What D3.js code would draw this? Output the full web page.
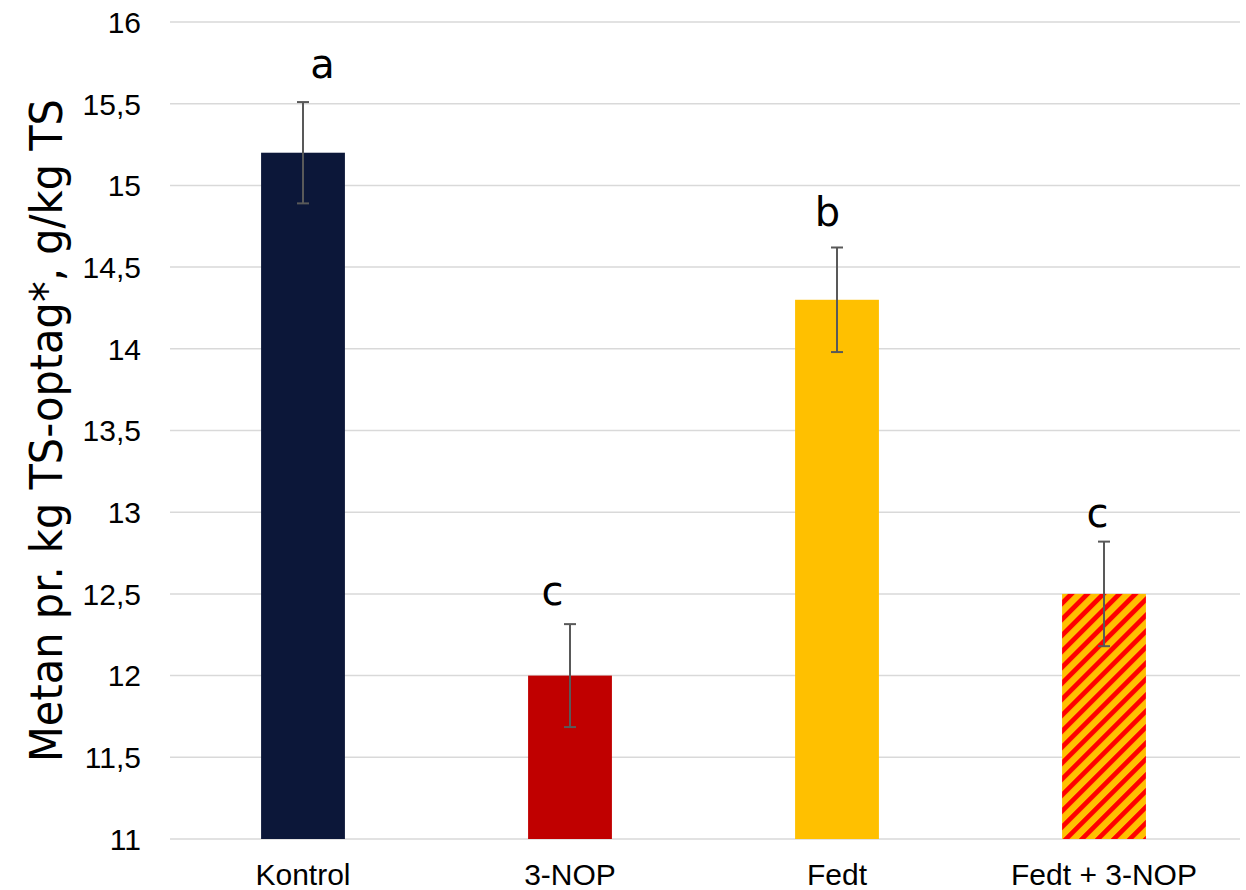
<!DOCTYPE html>
<html><head><meta charset="utf-8">
<script src="https://cdn.jsdelivr.net/npm/d3@7"></script>
<style>body{margin:0;background:#fff}</style>
</head><body>
<svg id="c" width="1246" height="890"></svg>
<script>
const categories = ["Kontrol", "3-NOP", "Fedt", "Fedt + 3-NOP"];
const values = [15.2, 12.0, 14.3, 12.5];
const errors = [0.31, 0.315, 0.32, 0.32];
const letters = ["a", "c", "b", "c"];
const yTicks = [11, 11.5, 12, 12.5, 13, 13.5, 14, 14.5, 15, 15.5, 16];
const yTitle = "Metan pr. kg TS-optag*, g/kg TS";

(function(){
const colors = ["#0c1739", "#c00000", "#ffc000", "url(#hatch)"];
const letterDx = [19.5, -17.5, -9.5, -6.5];
const letterDy = [-24, -19, -21, -15];

const svg = d3.select("#c");
const mLeft = 169.5, mRight = 1237.5, mTop = 22, mBottom = 839;

const defs = svg.append("defs");
const pat = defs.append("pattern").attr("id","hatch").attr("patternUnits","userSpaceOnUse")
  .attr("width",11.3).attr("height",11.3).attr("patternTransform","rotate(45)");
pat.append("rect").attr("width",11.3).attr("height",11.3).attr("fill","#ffc000");
pat.append("rect").attr("width",4.8).attr("height",11.3).attr("fill","#ff0000");

const x = d3.scaleBand().domain(categories).range([mLeft, mRight]).padding(0);
const y = d3.scaleLinear().domain([11, 16]).range([mBottom, mTop]);
const barW = x.bandwidth() * 0.314;

svg.append("g").selectAll("line").data(yTicks).join("line")
  .attr("x1", 170).attr("x2", 1240)
  .attr("y1", d => y(d)).attr("y2", d => y(d))
  .attr("stroke", "#d9d9d9").attr("stroke-width", 1.5);

const fmt = d => String(d).replace(".", ",");
svg.append("g").selectAll("text").data(yTicks).join("text")
  .attr("x", 141).attr("y", d => y(d)).attr("dy", "0.36em")
  .attr("text-anchor", "end")
  .attr("font-family", "Liberation Sans, Arial, sans-serif").attr("font-size", 30)
  .attr("fill", "#000").text(fmt);

svg.append("g").selectAll("rect").data(values).join("rect")
  .attr("x", (d,i) => x(categories[i]) + x.bandwidth()/2 - barW/2)
  .attr("width", barW)
  .attr("y", d => y(d)).attr("height", d => y(11) - y(d))
  .attr("fill", (d,i) => colors[i]);

const eg = svg.append("g").attr("stroke", "#595959").attr("stroke-width", 2);
values.forEach((v,i) => {
  const cx = x(categories[i]) + x.bandwidth()/2;
  eg.append("line").attr("x1",cx).attr("x2",cx).attr("y1",y(v+errors[i])).attr("y2",y(v-errors[i]));
  eg.append("line").attr("x1",cx-6).attr("x2",cx+6).attr("y1",y(v+errors[i])).attr("y2",y(v+errors[i]));
  eg.append("line").attr("x1",cx-6).attr("x2",cx+6).attr("y1",y(v-errors[i])).attr("y2",y(v-errors[i]));
});

svg.append("g").selectAll("text").data(letters).join("text")
  .attr("x", (d,i) => x(categories[i]) + x.bandwidth()/2 + letterDx[i])
  .attr("y", (d,i) => y(values[i] + errors[i]) + letterDy[i])
  .attr("text-anchor", "middle")
  .attr("font-family", "DejaVu Sans, sans-serif").attr("font-size", 40)
  .attr("fill", "#000").text(d => d);

svg.append("g").selectAll("text").data(categories).join("text")
  .attr("x", d => x(d) + x.bandwidth()/2).attr("y", 885)
  .attr("text-anchor", "middle")
  .attr("font-family", "Liberation Sans, Arial, sans-serif").attr("font-size", 30)
  .attr("fill", "#000").text(d => d);

svg.append("text")
  .attr("transform", "translate(62,430.5) rotate(-90)")
  .attr("text-anchor", "middle")
  .attr("font-family", "DejaVu Sans, sans-serif").attr("font-size", 44)
  .attr("textLength", 663).attr("lengthAdjust", "spacingAndGlyphs")
  .attr("fill", "#000").text(yTitle);
})();
</script>
</body></html>
